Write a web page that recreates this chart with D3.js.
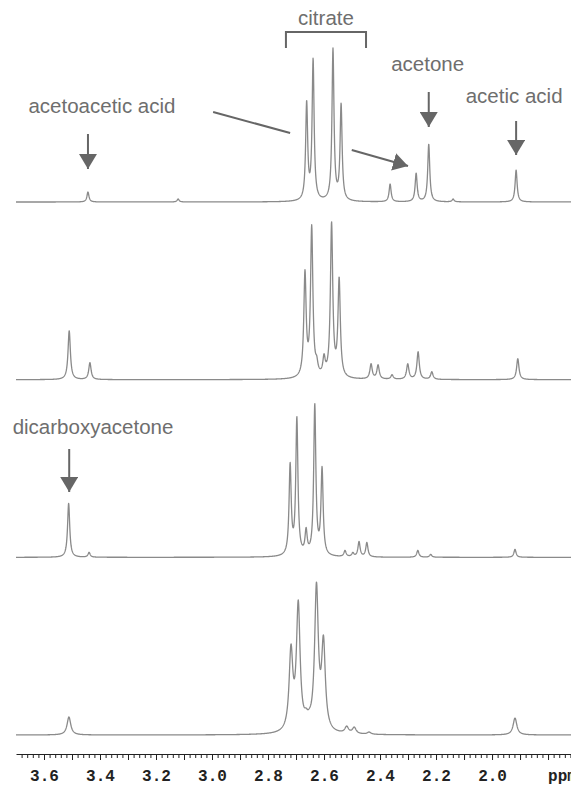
<!DOCTYPE html>
<meta charset="utf-8">
<style>
	body { margin: 0; background: #fff; }
	.trace { fill: none; stroke: #8a8a8a; stroke-width: 1.3; stroke-linejoin: round; }
	.label { font: 20.5px "Liberation Sans", Arial, sans-serif; fill: #6e6e6e; }
	.pointer { stroke: #666; stroke-width: 2; fill: none; }
	.head { fill: #666; }
	.axis path, .axis line { stroke: #222; }
	.axis text { font: bold 16px "Liberation Mono", "Courier New", monospace; fill: #222; }
</style>
<body>
<script src="https://d3js.org/d3.v7.min.js"></script>
<script>

	// peak lists (ppm, height in arbitrary units)
	var peakPpm1 = [3.443, 3.121, 2.662, 2.639, 2.568, 2.539, 2.364, 2.271, 2.226, 2.139, 1.914];
	var peakHeight1 = [10, 3, 102, 144, 154, 99, 18, 29, 58, 3, 32];

	var peakPpm2 = [3.510, 3.436, 2.668, 2.644, 2.626, 2.600, 2.573, 2.546, 2.432, 2.407, 2.357, 2.301, 2.264, 2.215, 1.908];
	var peakHeight2 = [49, 17, 110, 155, 24, 26, 158, 103, 16, 15, 5, 16, 28, 8, 21];

	var peakPpm3 = [3.512, 3.439, 2.721, 2.697, 2.664, 2.633, 2.607, 2.525, 2.497, 2.475, 2.447, 2.265, 2.219, 1.918];
	var peakHeight3 = [54, 5, 95, 141, 30, 154, 91, 7, 5, 16, 15, 7, 3, 8];

	var peakPpm4 = [3.511, 2.718, 2.692, 2.664, 2.652, 2.627, 2.602, 2.519, 2.492, 2.439, 1.918];
	var peakHeight4 = [18, 91, 135, 27, 27, 153, 100, 9, 8, 3, 17];

	// half width at half height of the lines, ppm
	var lineWidths = [0.0043, 0.0050, 0.0046, 0.0079];

	var tickLabels = [3.6, 3.4, 3.2, 3.0, 2.8, 2.6, 2.4, 2.2, 2.0];

	var spectra = [
		{ppm: peakPpm1, height: peakHeight1},
		{ppm: peakPpm2, height: peakHeight2},
		{ppm: peakPpm3, height: peakHeight3},
		{ppm: peakPpm4, height: peakHeight4}
	];

	var width = 571,
		height = 785;

	var x = d3.scaleLinear()
		.domain([3.7, 1.718])
		.range([16, 571]);

	var offset = d3.scaleLinear()
		.domain([0, spectra.length - 1])
		.range([202, 735]);

	var y = d3.scaleLinear()
		.domain([0, 160])
		.range([0, -160]);

	var svg = d3.select("body").append("svg")
		.attr("width", width)
		.attr("height", height);

	function lorentz(d, w) {
		return 1 / (1 + (d / w) * (d / w));
	}

	// amplitudes so that the summed curve reaches the read heights at each peak
	function fitAmps(pos, h, w) {
		var a = h.slice();
		for (var it = 0; it < 60; it++) {
			for (var i = 0; i < pos.length; i++) {
				var s = 0;
				for (var j = 0; j < pos.length; j++) s += a[j] * lorentz(pos[i] - pos[j], w);
				a[i] = Math.max(0, a[i] + (h[i] - s));
			}
		}
		return a;
	}

	var grid = d3.range(3.7, 1.7175, -0.0008);

	var line = d3.line()
		.x(function(d) { return x(d[0]); })
		.y(function(d) { return y(d[1]); });

	spectra.forEach(function(sp, k) {
		var w = lineWidths[k];
		var amps = fitAmps(sp.ppm, sp.height, w);
		var pts = grid.map(function(p) {
			var s = 0;
			for (var j = 0; j < sp.ppm.length; j++) s += amps[j] * lorentz(p - sp.ppm[j], w);
			return [p, s];
		});
		svg.append("g")
			.attr("transform", "translate(0," + offset(k) + ")")
			.append("path")
			.attr("class", "trace")
			.attr("d", line(pts));
	});

	// axis
	var axisY = 754;

	svg.append("g")
		.attr("class", "axis")
		.attr("transform", "translate(0," + axisY + ")")
		.call(d3.axisBottom(x)
			.tickValues(d3.range(3.68, 1.71, -0.02))
			.tickSize(4)
			.tickSizeOuter(0)
			.tickFormat(""));

	var major = svg.append("g")
		.attr("class", "axis")
		.attr("transform", "translate(0," + axisY + ")")
		.call(d3.axisBottom(x)
			.tickValues(d3.range(3.6, 1.75, -0.1))
			.tickSize(6)
			.tickSizeOuter(0)
			.tickFormat(""));
	major.select(".domain").remove();

	var labels = svg.append("g")
		.attr("class", "axis")
		.attr("transform", "translate(0," + axisY + ")")
		.call(d3.axisBottom(x)
			.tickValues(tickLabels)
			.tickSize(0)
			.tickFormat(d3.format(".1f")));
	labels.select(".domain").remove();
	labels.selectAll("text").attr("y", 15.5);

	svg.append("text")
		.attr("class", "axis")
		.attr("x", x(1.8))
		.attr("y", 781)
		.style("font", "bold 16px 'Liberation Mono', monospace")
		.style("fill", "#222")
		.text("ppm");

	// annotations
	svg.append("defs").append("marker")
		.attr("id", "head")
		.attr("viewBox", "0 0 15 18")
		.attr("refX", 15)
		.attr("refY", 9)
		.attr("markerWidth", 15)
		.attr("markerHeight", 18)
		.attr("markerUnits", "userSpaceOnUse")
		.attr("orient", "auto")
		.append("path")
		.attr("class", "head")
		.attr("d", "M0,0L15,9L0,18Z");

	var labelsText = [
		{t: "citrate", p: 2.593, y: 25},
		{t: "acetone", p: 2.230, y: 71},
		{t: "acetic acid", p: 1.921, y: 103},
		{t: "acetoacetic acid", p: 3.393, y: 113},
		{t: "dicarboxyacetone", p: 3.425, y: 434}
	];

	svg.selectAll(".label")
		.data(labelsText)
		.enter().append("text")
		.attr("class", "label")
		.attr("text-anchor", "middle")
		.attr("x", function(d) { return x(d.p); })
		.attr("y", function(d) { return d.y; })
		.text(function(d) { return d.t; });

	var arrows = [
		{p: 3.443, y0: 134, y1: 169},
		{p: 2.226, y0: 92, y1: 127},
		{p: 1.914, y0: 121, y1: 155},
		{p: 3.510, y0: 449, y1: 492}
	];

	svg.selectAll(".arrow")
		.data(arrows)
		.enter().append("line")
		.attr("class", "pointer")
		.attr("x1", function(d) { return x(d.p); })
		.attr("x2", function(d) { return x(d.p); })
		.attr("y1", function(d) { return d.y0; })
		.attr("y2", function(d) { return d.y1; })
		.attr("marker-end", "url(#head)");

	// citrate bracket
	svg.append("path")
		.attr("class", "pointer")
		.attr("d", "M" + x(2.736) + ",48V32H" + x(2.450) + "V48");

	// pointer from the acetoacetic acid label to the 2.27 ppm peak
	svg.append("line")
		.attr("class", "pointer")
		.attr("x1", x(2.996)).attr("y1", 112)
		.attr("x2", x(2.721)).attr("y2", 133);

	svg.append("line")
		.attr("class", "pointer")
		.attr("x1", x(2.501)).attr("y1", 150)
		.attr("x2", x(2.300)).attr("y2", 166)
		.attr("marker-end", "url(#head)");

</script>
